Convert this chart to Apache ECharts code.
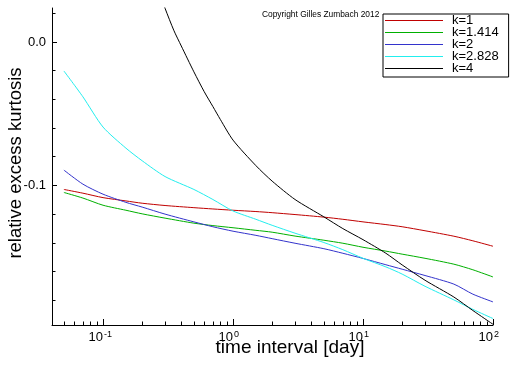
<!DOCTYPE html>
<html>
<head>
<meta charset="utf-8">
<script src="https://cdn.jsdelivr.net/npm/echarts@6/dist/echarts.min.js"></script>
<style>html,body{margin:0;padding:0;background:#fff;}#chart{width:512px;height:366px;}</style>
</head>
<body>
<div id="chart"></div>
<script>
// ---- data ----
const seriesNames = ['k=1', 'k=1.414', 'k=2', 'k=2.828', 'k=4'];
const timeGrid = [0.05, 0.07, 0.1, 0.15, 0.2, 0.3, 0.5, 0.7, 1, 1.5, 2, 3, 5, 7, 10, 15, 20, 30, 50, 70, 100];
const kurtK1 = [-0.103, -0.1056, -0.1087, -0.111, -0.1126, -0.1142, -0.1157, -0.1166, -0.1175, -0.1184, -0.1192, -0.1205, -0.1223, -0.1238, -0.1256, -0.1275, -0.129, -0.1318, -0.1356, -0.1388, -0.1426];
const kurtK1414 = [-0.1051, -0.109, -0.114, -0.1175, -0.12, -0.123, -0.1265, -0.1282, -0.1297, -0.1315, -0.1328, -0.1355, -0.1384, -0.1405, -0.1433, -0.146, -0.1481, -0.151, -0.1551, -0.159, -0.164];
const kurtK2 = [-0.0895, -0.0993, -0.1063, -0.112, -0.1153, -0.1202, -0.1256, -0.129, -0.1321, -0.135, -0.1373, -0.1405, -0.1443, -0.1475, -0.1511, -0.1555, -0.1586, -0.163, -0.169, -0.176, -0.1814];
const kurtK2828 = [-0.0204, -0.0384, -0.0595, -0.0742, -0.083, -0.094, -0.103, -0.110, -0.118, -0.1238, -0.128, -0.1335, -0.140, -0.145, -0.151, -0.157, -0.162, -0.1705, -0.180, -0.1866, -0.193];
const timeK4 = [0.28, 0.3, 0.35, 0.4, 0.5, 0.6, 0.7, 0.8, 1, 1.5, 2, 3, 5, 7, 10, 15, 20, 30, 50, 70, 100];
const kurtK4 = [0.031, 0.0233, 0.008, -0.003, -0.021, -0.0348, -0.0452, -0.0543, -0.0686, -0.0864, -0.0972, -0.110, -0.1221, -0.1303, -0.138, -0.1475, -0.1556, -0.1663, -0.178, -0.1874, -0.197];

const xMajorTicks = [0.1, 1, 10, 100];
const xMinorTicks = [0.05, 0.06, 0.07, 0.08, 0.09, 0.2, 0.3, 0.4, 0.5, 0.6, 0.7, 0.8, 0.9,
                     2, 3, 4, 5, 6, 7, 8, 9, 20, 30, 40, 50, 60, 70, 80, 90];
const yMajorTicks = [0, -0.1];
const yMinorTicks = [0.02, -0.02, -0.04, -0.06, -0.08, -0.12, -0.14, -0.16, -0.18];
const xRange = [0.0405, 100];
const yRange = [-0.1975, 0.0235];

const xTitle = 'time interval [day]';
const yTitle = 'relative excess kurtosis';
const copyright = 'Copyright Gilles Zumbach 2012';
const colors = ['#c00000', '#00b000', '#3333cc', '#22eeee', '#000000'];

// ---- chart ----
const FONT = 'Liberation Sans';
const zip = (xs, ys) => xs.map((x, i) => [x, ys[i]]);
const valuesList = [zip(timeGrid, kurtK1), zip(timeGrid, kurtK1414), zip(timeGrid, kurtK2), zip(timeGrid, kurtK2828), zip(timeK4, kurtK4)];

const lineSeries = seriesNames.map((n, i) => ({
  name: n, type: 'line', data: valuesList[i], symbol: 'none', smooth: 0.25,
  lineStyle: { color: colors[i], width: 1 }, itemStyle: { color: colors[i] },
  clip: true, z: 3, silent: true, animation: false
}));

function xTickRender(len, withLabel) {
  return function (params, api) {
    const p = api.coord([api.value(0), yRange[0]]);
    const x = Math.round(p[0]) + 0.5, y = Math.round(p[1]);
    const children = [{ type: 'line', shape: { x1: x, y1: y, x2: x, y2: y - len }, style: { stroke: '#000', lineWidth: 1 } }];
    if (withLabel) {
      const e = Math.round(Math.log10(api.value(0)));
      children.push({ type: 'text', style: { text: '10', x: x - 0.5, y: y + 12, align: 'right', verticalAlign: 'middle', font: '13px "' + FONT + '"', fill: '#000' } });
      children.push({ type: 'text', style: { text: String(e), x: x + 0.5, y: y + 10, align: 'left', verticalAlign: 'middle', font: '9px "' + FONT + '"', fill: '#000' } });
    }
    return { type: 'group', children };
  };
}
function yTickRender(len, withLabel) {
  return function (params, api) {
    const p = api.coord([xRange[0], api.value(1)]);
    const x = Math.round(p[0]), y = Math.round(p[1]) + 0.5;
    const children = [{ type: 'line', shape: { x1: x, y1: y, x2: x + len, y2: y }, style: { stroke: '#000', lineWidth: 1 } }];
    if (withLabel) {
      children.push({ type: 'text', style: { text: api.value(1).toFixed(1), x: x - 6, y: y, align: 'right', verticalAlign: 'middle', font: '13px "' + FONT + '"', fill: '#000' } });
    }
    return { type: 'group', children };
  };
}

const tickSeries = [
  { type: 'custom', name: 'xMajor', data: xMajorTicks.map(v => [v, yRange[0]]), renderItem: xTickRender(6, true), clip: false, silent: true, z: 5 },
  { type: 'custom', name: 'xMinor', data: xMinorTicks.map(v => [v, yRange[0]]), renderItem: xTickRender(3.5, false), clip: false, silent: true, z: 5 },
  { type: 'custom', name: 'yMajor', data: yMajorTicks.map(v => [xRange[0], v]), renderItem: yTickRender(5, true), clip: false, silent: true, z: 5 },
  { type: 'custom', name: 'yMinor', data: yMinorTicks.map(v => [xRange[0], v]), renderItem: yTickRender(3.5, false), clip: false, silent: true, z: 5 }
];

const chart = echarts.init(document.getElementById('chart'), null, { renderer: 'canvas' });
chart.setOption({
  animation: false,
  backgroundColor: '#fff',
  textStyle: { fontFamily: FONT },
  grid: { left: 52, right: 19, top: 8, bottom: 41, containLabel: false },
  xAxis: {
    type: 'log', logBase: 10, min: xRange[0], max: xRange[1],
    axisLine: { show: true, onZero: false, lineStyle: { color: '#000', width: 1 } },
    axisTick: { show: false }, axisLabel: { show: false }, splitLine: { show: false }, minorTick: { show: false }
  },
  yAxis: {
    type: 'value', min: yRange[0], max: yRange[1],
    axisLine: { show: true, onZero: false, lineStyle: { color: '#000', width: 1 } },
    axisTick: { show: false }, axisLabel: { show: false }, splitLine: { show: false }
  },
  legend: {
    data: seriesNames.map((n, i) => ({ name: n, icon: 'rect', itemStyle: { color: colors[i], borderWidth: 0 } })),
    orient: 'vertical', left: 383, top: 14,
    itemWidth: 58, itemHeight: 1.2, itemGap: -1,
    padding: [0, 10, 2, 2],
    borderColor: '#000', borderWidth: 1, borderRadius: 0, backgroundColor: '#fff',
    textStyle: { fontFamily: FONT, fontSize: 13, color: '#000', lineHeight: 10, padding: [0, 0, 0, 4] },
    selectedMode: false
  },
  graphic: [
    { type: 'text', left: 262, top: 11, style: { text: copyright, font: '8.4px "' + FONT + '"', fill: '#000' } },
    { type: 'text', x: 290, y: 348, style: { text: xTitle, font: '19px "' + FONT + '"', fill: '#000', align: 'center', verticalAlign: 'middle' } },
    { type: 'text', x: 16, y: 163, rotation: Math.PI / 2, style: { text: yTitle, font: '18.5px "' + FONT + '"', fill: '#000', align: 'center', verticalAlign: 'middle' } }
  ],
  series: lineSeries.concat(tickSeries)
});
</script>
</body>
</html>
